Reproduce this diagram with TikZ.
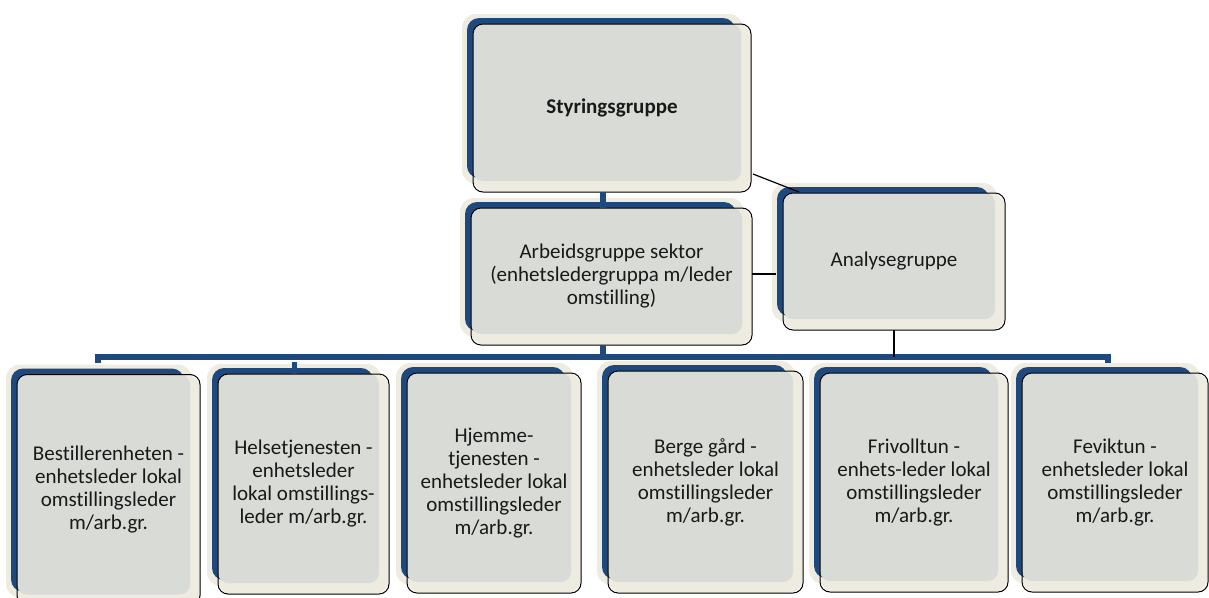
\documentclass[tikz,border=0pt]{standalone}
\usepackage{fontspec}
\setmainfont{Carlito}[Ligatures=NoCommon]
\usepackage{xcolor}
\usepackage{tikz}
\usetikzlibrary{calc,positioning,backgrounds}
\definecolor{navy}{RGB}{31,73,125}
\definecolor{cream}{RGB}{238,236,225}
\definecolor{boxgray}{RGB}{217,219,214}
\tikzset{
  org/.style={draw=black, line width=1pt, rounded corners=10pt, align=center,
  inner sep=0pt, text=black!90, font=\fontsize{21}{23}\selectfont},
  glow/.style={fill=cream, rounded corners=14pt},
  rim/.style={fill=navy, rounded corners=12pt},
  face/.style={fill=boxgray, rounded corners=10pt},
  trunk/.style={draw=navy, line width=5.5pt},
  link/.style={draw=black, line width=1.2pt}
}

\begin{document}
\begin{tikzpicture}[x=1pt,y=-1pt,outer sep=0pt]
	\useasboundingbox (0,0) rectangle (1209,597);
	\node (S) [org,minimum width=278pt,minimum height=168pt] at (612,108)
	{\textbf{Styringsgruppe}};
	\node (A) [org,minimum width=281pt,minimum height=137pt] at (611.5,276.5)
	{Arbeidsgruppe sektor\\(enhetsledergruppa m/leder\\omstilling)};
	\node (N) [org,minimum width=222pt,minimum height=137pt] at (894,261.5)
	{Analysegruppe};
	\node (C1) [org,minimum width=183pt,minimum height=231pt] at (108.5,490)
	{Bestillerenheten -\\enhetsleder lokal\\omstillingsleder\\m/arb.gr.};
	\node (C2) [org,minimum width=171pt,minimum height=220pt] at (303.5,484)
	{Helsetjenesten -\\enhetsleder\\lokal omstillings-\\leder m/arb.gr.};
	\node (C3) [org,minimum width=174pt,minimum height=220pt] at (494,483)
	{Hjemme-\\tjenesten -\\enhetsleder lokal\\omstillingsleder\\m/arb.gr.};
	\node (C4) [org,minimum width=195pt,minimum height=222pt] at (705.5,482)
	{Berge gård -\\enhetsleder lokal\\omstillingsleder\\m/arb.gr.};
	\node (C5) [org,minimum width=188pt,minimum height=219pt] at (914,482.5)
	{Frivolltun -\\enhets-leder lokal\\omstillingsleder\\m/arb.gr.};
	\node (C6) [org,minimum width=186pt,minimum height=219pt] at (1115,482.5)
	{Feviktun -\\enhetsleder lokal\\omstillingsleder\\m/arb.gr.};
	\begin{scope}[on background layer]
		\foreach \n in {S,A,N,C1,C2,C3,C4,C5,C6}{
			\path[glow] ($(\n.north west)+(-11,-10)$) rectangle ($(\n.south east)+(-8,-8)$);
			\path[glow] (\n.north west) rectangle (\n.south east);
			\path[rim] ($(\n.north west)+(-6,-6)$) rectangle ($(\n.south east)+(-16,-14)$);
			\path[face] (\n.north west) rectangle ($(\n.south east)+(-10,-11)$);
		}
	\end{scope}
	\coordinate (L) at (98,357);
	\coordinate (R) at (1108,357);
	\path[trunk] ($(L)+(0,6)$) -- (L) -- (R) -- ++(0,6);
	\path[trunk] ($(C2.north)+(-9,0)$) -- ++(0,-12);
	\path[trunk] ($(A.north)+(-8.5,0)$) -- ($(S.south)+(-9,0)$);
	\path[trunk] ($(A.south)+(-8.5,0)$) -- ($(L -| A.south)+(-8.5,0)$);
	\path[link] ($(S.south east)+(2,-18)$) -- ($(N.north west)+(16,-1)$);
	\path[link] ($(A.east)+(0,-2.5)$) -- ($(A.east -| N.west)+(-7,-2.5)$);
	\path[link] (N.south) -- (N.south |- L);
\end{tikzpicture}
\end{document}
